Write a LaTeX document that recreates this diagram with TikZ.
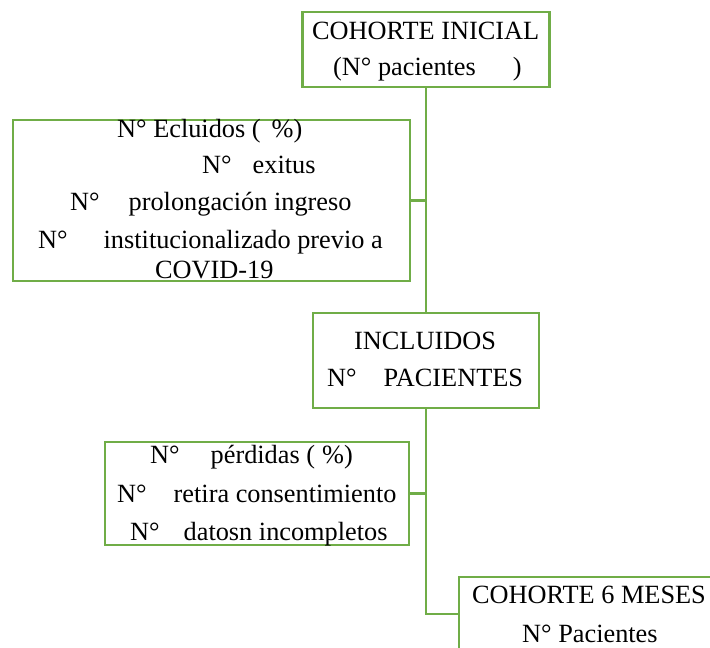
\documentclass[tikz,border=0pt]{standalone}
\usepackage{fontspec}
\setmainfont{Liberation Serif}
\definecolor{boxgreen}{HTML}{70AD47}
\begin{document}
\begin{tikzpicture}[x=1pt,y=-1pt,
  box/.style={draw=boxgreen,line width=2.7pt,rectangle,inner sep=0pt},
  wire/.style={draw=boxgreen,line width=2.7pt},
  txt/.style={anchor=base west,inner sep=0pt,font=\fontsize{26.3}{30}\selectfont}]
\clip (0,0) rectangle (710,648);
\fill[white] (0,0) rectangle (710,648);

% frames
\node[box,minimum width=247pt,minimum height=75pt]  (top)  at (426,49.5)    {};
\node[box,minimum width=397pt,minimum height=161pt] (excl) at (211.5,200.5) {};
\node[box,minimum width=226pt,minimum height=95pt]  (incl) at (426,360.5)   {};
\node[box,minimum width=304pt,minimum height=103pt] (perd) at (257,493.5)   {};
\node[box,minimum width=400pt,minimum height=200pt] (six)  at (659,677)     {};

% connectors
\coordinate (bend) at (426,614);
\draw[wire] (top.south) -- (incl.north);
\draw[wire] (excl.east) -- (excl.east -| top.south);
\draw[wire] (perd.east) -- (perd.east -| incl.south);
\draw[wire] (incl.south) -- (bend) -- (bend -| six.west);

% first cohort
\node[txt] (t1) at (312,39) {COHORTE INICIAL};
\node[txt] (t2) at (333,75) {(N° pacientes\hspace{37pt})};

% exclusions
\node[txt] (e1) at (117,137) {N° Ecluidos (\hspace{11pt}\%)};
\node[txt] (e2) at (202,173) {N°\hspace{21pt}exitus};
\node[txt] (e3) at (70,210)  {N°\hspace{29pt}prolongación ingreso};
\node[txt] (e4) at (38,248)  {N°\hspace{36pt}institucionalizado previo a};
\node[txt] (e5) at (155,278) {COVID-19};

% included
\node[txt] (i1) at (354,349) {INCLUIDOS};
\node[txt] (i2) at (327,386) {N°\hspace{27pt}PACIENTES};

% losses
\node[txt] (p1) at (150,463) {N°\hspace{31pt}pérdidas (\hspace{7pt}\%)};
\node[txt] (p2) at (117,502) {N°\hspace{27pt}retira consentimiento};
\node[txt] (p3) at (130,540) {N°\hspace{24pt}datosn incompletos};

% six-month cohort
\node[txt] (s1) at (472,603) {COHORTE 6 MESES};
\node[txt] (s2) at (522,642) {N° Pacientes};
\end{tikzpicture}
\end{document}
